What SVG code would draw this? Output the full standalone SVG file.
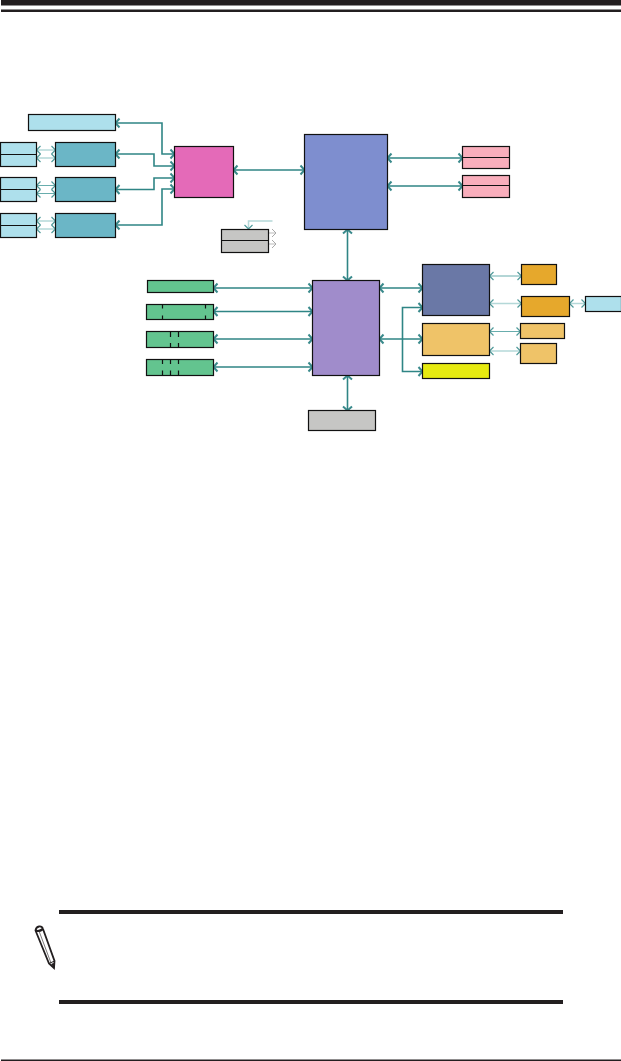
<svg xmlns="http://www.w3.org/2000/svg" width="621" height="1061" viewBox="0 0 621 1061">
<style>
.n{stroke:#111;stroke-width:1.2}
.lb{fill:#aee0ec}.tl{fill:#6bb6c6}.pk{fill:#e46ab8}.bl{fill:#7e8ecf}.pu{fill:#a08ccb}.in{fill:#6a78a6}.or{fill:#efc368}.ye{fill:#e6ea10}.go{fill:#e6a82c}.gr{fill:#c6c6c4}.ge{fill:#63c48f}.ro{fill:#f9aebc}
.d{stroke:#111;stroke-width:1.2;fill:none}
.c{fill:none;stroke:#2f8585;stroke-width:1.6;marker-start:url(#a);marker-end:url(#a)}
.t{fill:none;stroke:#68adad;stroke-width:1;marker-start:url(#b);marker-end:url(#b)}
.p{fill:none;stroke:#b4d8d8;stroke-width:1.5;marker-start:url(#b);marker-end:url(#b)}
.k{fill:#231f20}
</style>
<defs>
<marker id="a" viewBox="-7 -7 9 14" markerUnits="userSpaceOnUse" markerWidth="9" markerHeight="14" refX="0" refY="0" orient="auto-start-reverse"><path d="M-4,-4.500L0,0L-4,4.500" fill="none" stroke="#3a8a8c" stroke-width="2"/></marker>
<marker id="b" viewBox="-7 -7 9 14" markerUnits="userSpaceOnUse" markerWidth="9" markerHeight="14" refX="0" refY="0" orient="auto-start-reverse"><path d="M-4,-4L0,0L-4,4" fill="none" stroke="#4f9a9a" stroke-width="1.200"/></marker>
<marker id="g" viewBox="-7 -7 9 14" markerUnits="userSpaceOnUse" markerWidth="9" markerHeight="14" refX="0" refY="0" orient="auto"><path d="M-4,-4L0,0L-4,4" fill="none" stroke="#aaa" stroke-width="1"/></marker>
</defs>
<g id="page-rules">
<rect class="k" x="1" y="0" width="620" height="5.500"/>
<rect class="k" x="1" y="9.500" width="620" height="2.500"/>
<rect class="k" x="1" y="1059.500" width="620" height="1.500"/>
<rect class="k" x="59" y="910" width="504" height="4"/>
<rect class="k" x="59" y="1000" width="504" height="4"/>
</g>
<g id="pencil" fill="none" stroke="#231f20">
<path d="M35.500,930.500Q36,927 39,926.500Q42,926 43,929L54.500,961L54,968L49,963.500L35.500,930.500Z" fill="#fff" stroke-width="1.800"/>
<path d="M35.500,930.500Q39,932 43,929" stroke-width="2.200"/>
<path d="M39,931L51,963" stroke-width=".6"/>
<path d="M49,963.500L54.500,961" stroke-width="1"/>
<path d="M51.500,964L54,968L54.500,963Z" fill="#231f20" stroke-width=".5"/>
</g>
<g id="connectors">
<path class="c" d="M115.500,123H162V154H174.500"/>
<path class="c" d="M115.500,154H154V166H174.500"/>
<path class="c" d="M115.500,189.500H154V178H174.500"/>
<path class="c" d="M115.500,225H162V189H174.500"/>
<path class="c" d="M233.500,170H304.500"/>
<path class="p" d="M36.500,150H55.500"/>
<path class="p" d="M36.500,158H55.500"/>
<path class="t" d="M36.500,185.500H55.500"/>
<path class="t" d="M36.500,193.500H55.500"/>
<path class="p" d="M36.500,221H55.500"/>
<path class="p" d="M36.500,229H55.500"/>
<path d="M272.500,221H248.500V229" fill="none" stroke="#b4d8d8" stroke-width="1.500" marker-end="url(#b)"/>
<path d="M268.500,233H276" fill="none" stroke="#bbb" stroke-width="1" marker-end="url(#g)"/>
<path d="M268.500,244H276" fill="none" stroke="#bbb" stroke-width="1" marker-end="url(#g)"/>
<path class="c" d="M387.500,158H462.500"/>
<path class="c" d="M387.500,186H462.500"/>
<path class="c" d="M347.500,229.500V280.500"/>
<path class="c" d="M213.500,288H312.500"/>
<path class="c" d="M213.500,311.500H312.500"/>
<path class="c" d="M213.500,339H312.500"/>
<path class="c" d="M213.500,367H312.500"/>
<path class="c" d="M347.500,375.500V410.500"/>
<path class="c" d="M379.500,288H422.500"/>
<path class="c" d="M379.500,339H422.500"/>
<path class="c" d="M422.500,307.500H402.500V371.500H422.500"/>
<path class="t" d="M489.500,276H521.500"/>
<path class="p" d="M489.500,303.500H521.500"/>
<path class="t" d="M489.500,331.500H520.500"/>
<path class="p" d="M489.500,351H520.500"/>
<path class="p" d="M569.500,303.500H585.500"/>
</g>
<g id="node-top-bar"><rect class="n lb" x="28.500" y="114.500" width="87" height="16"/></g>
<g id="node-left-1"><rect class="n lb" x="0.500" y="142.500" width="36" height="24"/><path class="d" d="M0.500,154.500H36.500"/></g>
<g id="node-left-2"><rect class="n lb" x="0.500" y="177.500" width="36" height="24"/><path class="d" d="M0.500,189.500H36.500"/></g>
<g id="node-left-3"><rect class="n lb" x="0.500" y="213.500" width="36" height="24"/><path class="d" d="M0.500,225.500H36.500"/></g>
<g id="node-teal-1"><rect class="n tl" x="55.500" y="142.500" width="60" height="24"/></g>
<g id="node-teal-2"><rect class="n tl" x="55.500" y="177.500" width="60" height="24"/></g>
<g id="node-teal-3"><rect class="n tl" x="55.500" y="213.500" width="60" height="24"/></g>
<g id="node-pink"><rect class="n pk" x="174.500" y="146.500" width="59" height="51"/></g>
<g id="node-grey-pair"><rect class="n gr" x="221.500" y="229.500" width="47" height="23"/><path class="d" d="M221.500,240.500H268.500"/></g>
<g id="node-blue"><rect class="n bl" x="304.500" y="134.500" width="83" height="95"/></g>
<g id="node-rose-1"><rect class="n ro" x="462.500" y="146.500" width="47" height="22"/><path class="d" d="M462.500,157.500H509.500"/></g>
<g id="node-rose-2"><rect class="n ro" x="462.500" y="175.500" width="47" height="22"/><path class="d" d="M462.500,185.500H509.500"/></g>
<g id="node-purple"><rect class="n pu" x="312.500" y="280.500" width="67" height="95"/></g>
<g id="node-grey"><rect class="n gr" x="308.500" y="410.500" width="67" height="20"/></g>
<g id="node-green-1"><rect class="n ge" x="147.500" y="280.500" width="66" height="12"/></g>
<g id="node-green-2"><rect class="n ge" x="146.500" y="304.500" width="67" height="15"/><path class="d" d="M162.500,304.500V308.500M162.500,315.500V319.500M205.500,304.500V308.500M205.500,315.500V319.500"/></g>
<g id="node-green-3"><rect class="n ge" x="146.500" y="331.500" width="67" height="16"/><path class="d" d="M170.500,331.500V337M170.500,343V347.500M178.500,331.500V337M178.500,343V347.500"/></g>
<g id="node-green-4"><rect class="n ge" x="146.500" y="359.500" width="67" height="16"/><path class="d" d="M162.500,359.500V364M162.500,370.500V375.500M170.500,359.500V364M170.500,370.500V375.500M178.500,359.500V364M178.500,370.500V375.500"/></g>
<g id="node-indigo"><rect class="n in" x="422.500" y="264.500" width="67" height="51"/></g>
<g id="node-orange"><rect class="n or" x="422.500" y="323.500" width="67" height="32"/></g>
<g id="node-yellow"><rect class="n ye" x="422.500" y="363.500" width="67" height="15"/></g>
<g id="node-gold-1"><rect class="n go" x="521.500" y="264.500" width="35" height="20"/></g>
<g id="node-gold-2"><rect class="n go" x="521.500" y="296.500" width="48" height="20"/></g>
<g id="node-light-right"><rect class="n lb" x="585.500" y="296.500" width="36" height="15"/></g>
<g id="node-orange-2"><rect class="n or" x="520.500" y="323.500" width="44" height="15"/></g>
<g id="node-orange-3"><rect class="n or" x="520.500" y="343.500" width="36" height="20"/></g>
</svg>
